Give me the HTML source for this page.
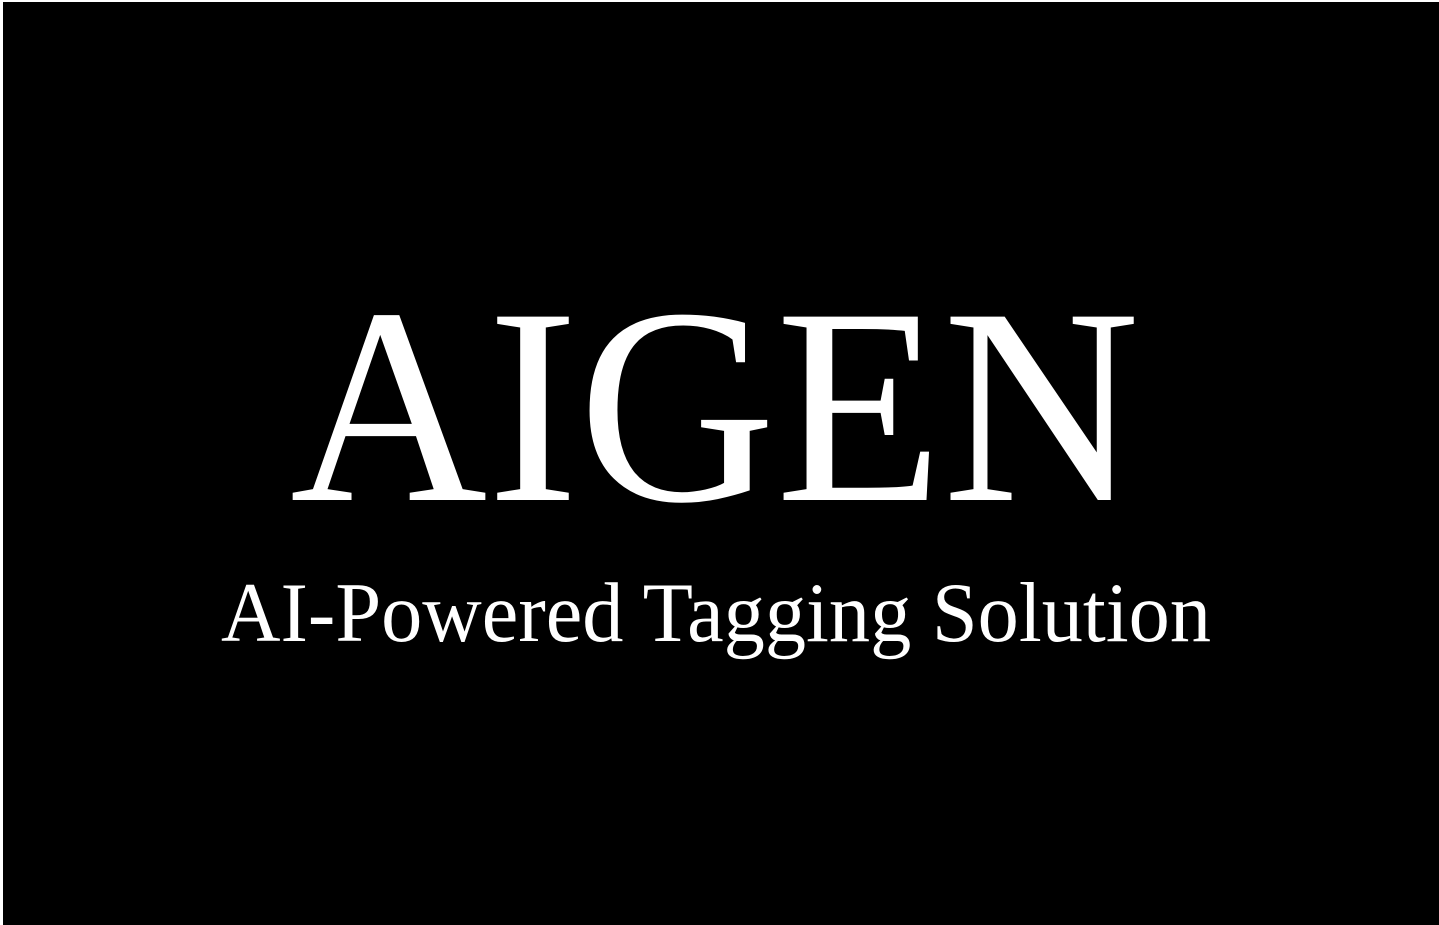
<!DOCTYPE html>
<html>
<head>
<meta charset="utf-8">
<style>
  html,body{margin:0;padding:0;background:#fff;}
  #logo{position:absolute;left:0;top:0;width:1439px;height:925px;}
</style>
</head>
<body>
<svg id="logo" width="1439" height="925" viewBox="0 0 1439 925" xmlns="http://www.w3.org/2000/svg">
  <rect x="3" y="2" width="1436" height="923" fill="#000"/>
  <text x="715" y="500" text-anchor="middle" font-family="'Liberation Serif', serif" font-size="280" fill="#fff" textLength="850" lengthAdjust="spacingAndGlyphs">AIGEN</text>
  <text x="716" y="641" text-anchor="middle" font-family="'Liberation Serif', serif" font-size="85" fill="#fff" textLength="990" lengthAdjust="spacingAndGlyphs">AI-Powered Tagging Solution</text>
</svg>
</body>
</html>
